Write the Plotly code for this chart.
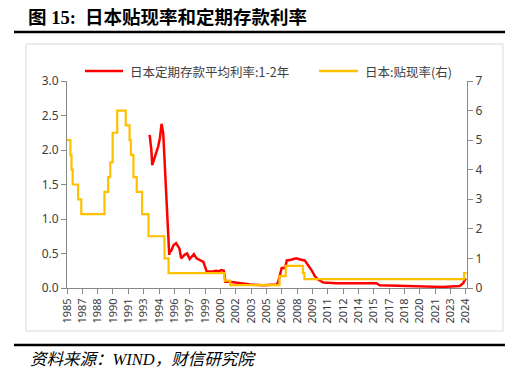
import plotly.graph_objects as go

# ---- data ----
red_dates = ["1993-11", "1994-01", "1994-02", "1994-05", "1994-09", "1994-11", "1995-01",
             "1995-03", "1995-05", "1995-07", "1995-09", "1995-10", "1995-11", "1995-12",
             "1996-03", "1996-06", "1996-10", "1996-12", "1997-04", "1997-07", "1997-10",
             "1998-03", "1998-06", "1998-10", "1999-02", "1999-04", "1999-06", "2000-01",
             "2000-05", "2000-08", "2000-11", "2001-02", "2001-04", "2001-09", "2002-03",
             "2003-01", "2003-09", "2004-12", "2006-02", "2006-04", "2006-06", "2006-08",
             "2006-10", "2007-02", "2007-04", "2007-09", "2008-03", "2008-09", "2009-01",
             "2009-05", "2009-09", "2010-01", "2010-05", "2010-11", "2012-02", "2014-02",
             "2016-01", "2016-05", "2018-08", "2020-08", "2022-07", "2024-03", "2024-07",
             "2024-10"]
red_values = [2.22, 2.00, 1.78, 1.90, 2.05, 2.17, 2.38,
              2.24, 1.76, 1.28, 0.79, 0.48, 0.55, 0.53,
              0.62, 0.65, 0.57, 0.43, 0.48, 0.50, 0.42,
              0.49, 0.43, 0.41, 0.38, 0.31, 0.24, 0.24,
              0.25, 0.24, 0.26, 0.25, 0.09, 0.09, 0.08,
              0.07, 0.05, 0.04, 0.04, 0.05, 0.09, 0.21,
              0.29, 0.29, 0.40, 0.41, 0.43, 0.41, 0.40,
              0.33, 0.26, 0.17, 0.12, 0.08, 0.07, 0.07,
              0.07, 0.04, 0.03, 0.02, 0.015, 0.03, 0.07,
              0.14]

yel_dates = ["1985-10-01", "1986-01-30", "1986-03-10", "1986-04-21", "1986-11-01",
             "1987-02-23", "1989-05-31", "1989-10-11", "1989-12-25", "1990-03-20",
             "1990-08-30", "1991-07-01", "1991-11-14", "1991-12-30", "1992-04-01",
             "1992-07-27", "1993-02-04", "1993-09-21", "1995-04-14", "1995-09-08",
             "2001-02-13", "2001-03-01", "2001-09-19", "2006-07-14", "2007-02-21",
             "2008-10-31", "2008-12-19", "2024-07-31", "2024-10-31"]
yel_values = [5.0, 4.5, 4.0, 3.5, 3.0,
              2.5, 3.25, 3.75, 4.25, 5.25,
              6.0, 5.5, 5.0, 4.5, 3.75,
              3.25, 2.5, 1.75, 1.0, 0.5,
              0.35, 0.25, 0.1, 0.4, 0.75,
              0.5, 0.3, 0.5, 0.5]

# x tick positions: every 18 months starting Oct 1985
tick_labels = ["1985", "1987", "1988", "1990", "1991", "1993", "1994", "1996", "1997",
               "1999", "2000", "2002", "2003", "2005", "2006", "2008", "2009", "2011",
               "2012", "2014", "2015", "2017", "2018", "2020", "2021", "2023", "2024"]

def month_add(y, m, k):
    t = (y * 12 + (m - 1)) + k
    return "%04d-%02d-01" % (t // 12, t % 12 + 1)

tick_vals = [month_add(1985, 10, 18 * i) for i in range(len(tick_labels))]

# ---- layout geometry (page pixel helpers; page has 8px body margin) ----
OFF = 8
W, H = 532 - OFF, 381 - OFF
L, R, T, B = 67 - OFF, 467 - OFF, 81 - OFF, 288 - OFF
def px(x):
    return (x - OFF - L) / (R - L)
def py(y):
    return (B - (y - OFF)) / (B - T)

RED = "#FF0000"
YEL = "#FFC000"
AXC = "#898989"
TXT = "#404040"

fig = go.Figure()
fig.add_trace(go.Scatter(x=yel_dates, y=yel_values, mode="lines", name="日本:贴现率(右)",
                         line=dict(color=YEL, width=2.2, shape="hv"), yaxis="y2",
                         showlegend=False))
fig.add_trace(go.Scatter(x=red_dates, y=red_values, mode="lines", name="日本定期存款平均利率:1-2年",
                         line=dict(color=RED, width=2.5), showlegend=False))

fig.update_layout(
    width=W, height=H,
    margin=dict(l=L, r=W - R, t=T, b=H - B),
    paper_bgcolor="white", plot_bgcolor="white",
    font=dict(family="Noto Sans, Noto Sans CJK SC", size=12, color=TXT),
    xaxis=dict(type="date", range=["1985-10-01", "2024-11-15"],
               tickmode="array", tickvals=tick_vals, ticktext=tick_labels,
               tickangle=-90, tickfont=dict(size=11, color=TXT),
               showgrid=False, zeroline=False, showline=True, linecolor=AXC, linewidth=1,
               ticks="outside", ticklen=5, tickcolor=AXC),
    yaxis=dict(range=[0, 3], tickvals=[0, 0.5, 1, 1.5, 2, 2.5, 3],
               ticktext=["0.0", "0.5", "1.0", "1.5", "2.0", "2.5", "3.0"],
               tickfont=dict(size=12, color=TXT),
               showgrid=False, zeroline=False, showline=True, linecolor=AXC, linewidth=1,
               ticks="outside", ticklen=5, tickcolor=AXC),
    yaxis2=dict(range=[0, 7], overlaying="y", side="right", tickvals=list(range(8)),
                tickfont=dict(size=12, color=TXT),
                showgrid=False, zeroline=False, showline=True, linecolor=AXC, linewidth=1,
                ticks="outside", ticklen=5, tickcolor=AXC),
)

shapes = [
    # chart frame
    dict(type="rect", xref="paper", yref="paper", x0=px(26), x1=px(503), y0=py(331), y1=py(44),
         line=dict(color="#D9D9D9", width=1), layer="below"),
    # title underline
    dict(type="line", xref="paper", yref="paper", x0=px(14), x1=px(505), y0=py(32), y1=py(32),
         line=dict(color="black", width=2.5)),
    # footer line
    dict(type="line", xref="paper", yref="paper", x0=px(14), x1=px(505), y0=py(345), y1=py(345),
         line=dict(color="black", width=2.5)),
    # legend samples
    dict(type="line", xref="paper", yref="paper", x0=px(85), x1=px(123), y0=py(71), y1=py(71),
         line=dict(color=RED, width=2.5)),
    dict(type="line", xref="paper", yref="paper", x0=px(319), x1=px(358), y0=py(71), y1=py(71),
         line=dict(color=YEL, width=2.5)),
]
fig.update_layout(shapes=shapes)

ann = [
    dict(text="<b>图 15:  日本贴现率和定期存款利率</b>", x=px(27), y=py(17.5),
         font=dict(family="Liberation Serif, Noto Sans CJK SC", size=18.5, color="black"),
         borderpad=0),
    dict(text="<i>资料来源：WIND，财信研究院</i>", x=px(28), y=py(359),
         font=dict(family="Liberation Serif, Noto Sans CJK SC", size=16.5, color="black")),
    dict(text="日本定期存款平均利率:1-2年", x=px(128), y=py(71),
         font=dict(family="Noto Sans CJK SC", size=12.5, color=TXT)),
    dict(text="日本:贴现率(右)", x=px(363), y=py(71),
         font=dict(family="Noto Sans CJK SC", size=12.5, color=TXT)),
]
for a in ann:
    a.update(xref="paper", yref="paper", xanchor="left", yanchor="middle", showarrow=False)
fig.update_layout(annotations=ann)

fig.write_html("out.html")
